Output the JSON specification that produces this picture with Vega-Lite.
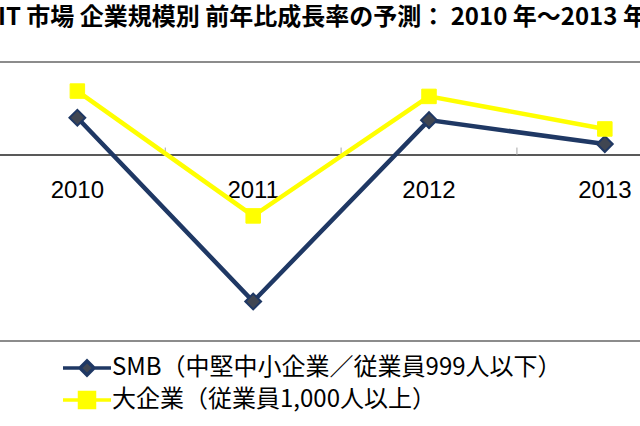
{
  "$schema": "https://vega.github.io/schema/vega-lite/v6.json",
  "width": 640,
  "height": 279,
  "autosize": {"type": "none"},
  "padding": {"top": 62, "left": 0, "right": 0, "bottom": 85},
  "background": "#ffffff",
  "config": {"view": {"stroke": null}},
  "title": {
    "text": "IT 市場 企業規模別 前年比成長率の予測： 2010 年～2013 年",
    "anchor": "start",
    "frame": "group",
    "font": "Noto Sans CJK JP",
    "fontSize": 24,
    "fontWeight": "bold",
    "color": "#000000",
    "offset": 31,
    "dx": -2
  },
  "data": {
    "values": [
      {"year": 2010, "series": "SMB（中堅中小企業／従業員999人以下）", "value": 1.6},
      {"year": 2011, "series": "SMB（中堅中小企業／従業員999人以下）", "value": -6.3},
      {"year": 2012, "series": "SMB（中堅中小企業／従業員999人以下）", "value": 1.5},
      {"year": 2013, "series": "SMB（中堅中小企業／従業員999人以下）", "value": 0.47},
      {"year": 2010, "series": "大企業（従業員1,000人以上）", "value": 2.75},
      {"year": 2011, "series": "大企業（従業員1,000人以上）", "value": -2.62},
      {"year": 2012, "series": "大企業（従業員1,000人以上）", "value": 2.52},
      {"year": 2013, "series": "大企業（従業員1,000人以上）", "value": 1.12}
    ]
  },
  "layer": [
    {
      "mark": {"type": "rule", "color": "#8c8c8c", "strokeWidth": 2},
      "encoding": {"y": {"datum": 4, "type": "quantitative", "scale": {"domain": [-8, 4], "nice": false, "zero": false}, "axis": null}}
    },
    {
      "mark": {"type": "rule", "color": "#8c8c8c", "strokeWidth": 2},
      "encoding": {"y": {"datum": -8, "type": "quantitative"}}
    },
    {
      "mark": {"type": "rule", "color": "#5a5a5a", "strokeWidth": 1.5},
      "encoding": {"y": {"datum": 0, "type": "quantitative"}}
    },
    {
      "data": {"values": [{"b": 2010.5}, {"b": 2011.5}, {"b": 2012.5}]},
      "mark": {"type": "rule", "color": "#a6a6a6", "strokeWidth": 1},
      "encoding": {
        "x": {"field": "b", "type": "quantitative", "scale": {"domain": [2009.56, 2013.2], "nice": false, "zero": false}, "axis": null},
        "y": {"datum": 0, "type": "quantitative"},
        "y2": {"datum": 0.32}
      }
    },
    {
      "data": {"values": [{"year": 2010, "label": "2010"}, {"year": 2011, "label": "2011"}, {"year": 2012, "label": "2012"}, {"year": 2013, "label": "2013"}]},
      "mark": {"type": "text", "font": "Liberation Sans", "fontSize": 24, "color": "#000000", "baseline": "middle", "align": "center", "dy": 36},
      "encoding": {
        "x": {"field": "year", "type": "quantitative"},
        "y": {"datum": 0, "type": "quantitative"},
        "text": {"field": "label"}
      }
    },
    {
      "mark": {"type": "line", "strokeWidth": 4.5},
      "encoding": {
        "x": {"field": "year", "type": "quantitative"},
        "y": {"field": "value", "type": "quantitative"},
        "color": {
          "field": "series",
          "type": "nominal",
          "sort": null,
          "scale": {"domain": ["SMB（中堅中小企業／従業員999人以下）", "大企業（従業員1,000人以上）"], "range": ["#1f3864", "#ffff00"]},
          "legend": {
            "orient": "none",
            "legendX": 75,
            "legendY": 294,
            "title": null,
            "direction": "vertical",
            "padding": 0,
            "labelFont": "Noto Sans CJK JP",
            "labelFontSize": 24,
            "labelColor": "#000000",
            "labelLimit": 600,
            "labelOffset": 13,
            "rowPadding": 3,
            "symbolSize": 100,
            "symbolStrokeWidth": 3.5,
            "encode": {
              "symbols": {
                "update": {
                  "shape": {"signal": "datum.value == 'SMB（中堅中小企業／従業員999人以下）' ? 'M-4.8,0H-1.4M1.4,0H4.8M0,-1.4L1.4,0L0,1.4L-1.4,0Z' : 'M-4.8,0H-1.5M1.5,0H4.8M-1.5,-1.5H1.5V1.5H-1.5Z'"},
                  "fill": {"signal": "datum.value == 'SMB（中堅中小企業／従業員999人以下）' ? '#404652' : '#ffff00'"},
                  "stroke": {"signal": "datum.value == 'SMB（中堅中小企業／従業員999人以下）' ? '#1f3864' : '#ffff00'"},
                  "strokeWidth": {"value": 3.5},
                  "opacity": {"value": 1},
                  "fillOpacity": {"value": 1}
                }
              }
            }
          }
        }
      }
    },
    {
      "transform": [{"filter": "datum.series == 'SMB（中堅中小企業／従業員999人以下）'"}],
      "mark": {"type": "point", "shape": "diamond", "filled": true, "fill": "#404652", "stroke": "#1f3864", "strokeWidth": 2, "size": 250, "opacity": 1},
      "encoding": {
        "x": {"field": "year", "type": "quantitative"},
        "y": {"field": "value", "type": "quantitative"}
      }
    },
    {
      "transform": [{"filter": "datum.series == '大企業（従業員1,000人以上）'"}],
      "mark": {"type": "point", "shape": "square", "filled": true, "fill": "#ffff00", "stroke": "#ffff00", "strokeWidth": 1, "size": 210, "opacity": 1},
      "encoding": {
        "x": {"field": "year", "type": "quantitative"},
        "y": {"field": "value", "type": "quantitative"}
      }
    }
  ]
}
